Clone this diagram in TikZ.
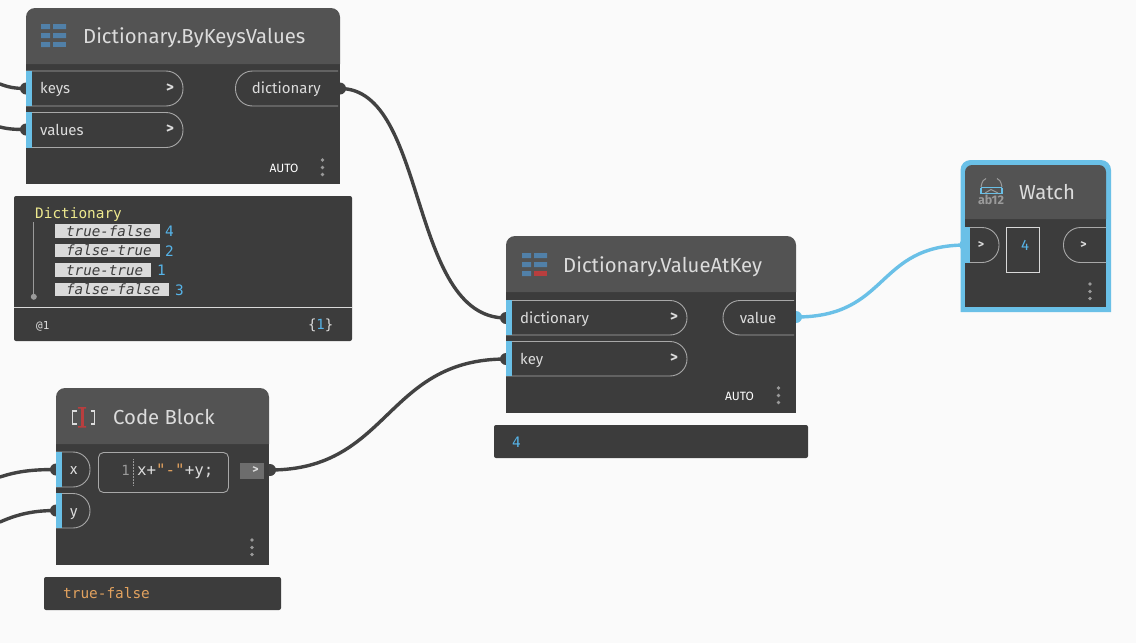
\documentclass[tikz,border=0pt]{standalone}
\usepackage{fontspec}
\setmainfont{Fira Sans}
\setmonofont{DejaVu Sans Mono}
\definecolor{canvas}{HTML}{FAFAFA}
\definecolor{bodyc}{HTML}{3C3C3C}
\definecolor{headc}{HTML}{535353}
\definecolor{blueport}{HTML}{6AC0E7}
\definecolor{wirec}{HTML}{424242}
\definecolor{txt}{HTML}{DCDCDC}
\definecolor{pillc}{HTML}{A8A8A8}
\definecolor{numc}{HTML}{56B4E9}
\definecolor{yel}{HTML}{EEE98E}
\definecolor{orangec}{HTML}{E2A25F}
\definecolor{keyc}{HTML}{DADADA}
\definecolor{gridc}{HTML}{5180A8}
\definecolor{redc}{HTML}{B83E3E}
\definecolor{dotc}{HTML}{9A9A9A}
\newcommand{\fsz}[1]{\fontsize{#1}{#1}\selectfont}
\tikzset{
  x=1pt,y=-1pt,
  wire/.style={draw=wirec,line width=3.4pt,line cap=round},
  bluewire/.style={draw=blueport,line width=3.4pt,line cap=round},
  plug/.style={fill=wirec},
  blueplug/.style={fill=blueport},
  title/.style={anchor=west,inner sep=0pt,text=txt,font=\fsz{20.3},text height=12,text depth=0},
  portlabel/.style={anchor=west,inner sep=0pt,text=txt,font=\fsz{15},text height=10.6,text depth=0},
  chev/.style={anchor=center,inner sep=0pt,text=txt,font=\fsz{15}\bfseries},
  auto label/.style={anchor=center,inner sep=0pt,text=white,font=\fsz{12}},
  pill/.style={draw=pillc,line width=0.9pt,rounded corners=17pt},
  mono/.style={anchor=west,inner sep=0pt,font=\ttfamily\fsz{14.4},text height=10,text depth=0},
  keytext/.style={anchor=west,inner sep=0pt,text=bodyc,font=\ttfamily\itshape\fsz{14.2},text height=10,text depth=0},
  keybar/.style={fill=keyc},
  numtext/.style={anchor=west,inner sep=0pt,text=numc,font=\ttfamily\fsz{14.4},text height=10,text depth=0},
  panel/.style={fill=bodyc},
  header/.style={fill=headc},
}
% #1 x left #2 x right #3 y top #4 y bottom #5 label name #6 text
\newcommand{\inport}[6]{%
  \draw[pill] (#1,#3) -- (#2,#3) -- (#2,#4) -- (#1,#4);
  \fill[blueport] (#1,#3-0.4) rectangle (#1+6,#4+0.4);
  \node[portlabel] (#5) at (#1+14,{(#3+#4)/2}) {#6};
}
\newcommand{\outport}[6]{%
  \draw[pill] (#2,#3) -- (#1,#3) -- (#1,#4) -- (#2,#4);
  \node[portlabel,anchor=center] (#5) at ({(#1+#2)/2-0.5},{(#3+#4)/2}) {#6};
}
\newcommand{\threedots}[2]{%
  \fill[dotc] (#1,#2-7.5) circle[radius=1.9] (#1,#2) circle[radius=1.9] (#1,#2+7) circle[radius=1.9];
}
% node frame: x1 x2 ytop yhead ybot
\newcommand{\nodeframe}[5]{%
  \fill[panel] (#1,#5) [rounded corners=0pt] -- (#1,#4) -- (#2,#4) -- (#2,#5) -- cycle;
  \fill[header] (#1,#4) [rounded corners=9pt] -- (#1,#3) -- (#2,#3) [rounded corners=0pt] -- (#2,#4) -- cycle;
}
\newcommand{\gridicon}[3]{%
  \fill[gridc] (#1,#2) rectangle ++(9,5) (#1+12,#2) rectangle ++(13,5)
               (#1,#2+9) rectangle ++(9,5) (#1+12,#2+9) rectangle ++(13,5)
               (#1,#2+18) rectangle ++(9,5);
  \fill[#3] (#1+12,#2+18) rectangle ++(13,5);
}
\begin{document}
\begin{tikzpicture}
\useasboundingbox (0,0) rectangle (1136,643);
\fill[canvas] (0,0) rectangle (1136,643);

% free wire ends and port anchors
\coordinate (freeK) at (0,84);
\coordinate (freeV) at (0,127);
\coordinate (freeX) at (0,477);
\coordinate (freeY) at (0,522);
\coordinate (keysIn) at (26,88.5);
\coordinate (valuesIn) at (26,129.5);
\coordinate (dictOut) at (340,88.5);
\coordinate (dictIn) at (506,318);
\coordinate (keyIn) at (506,359);
\coordinate (xIn) at (56,469.5);
\coordinate (yIn) at (56,510.5);
\coordinate (cbOut) at (270,470);
\coordinate (valOut) at (796,317);
\coordinate (watchIn) at (966,245);

% wires
\draw[wire] (freeK) .. controls (8,87) and (14,88.5) .. (keysIn);
\draw[wire] (freeV) .. controls (8,129) and (14,129.5) .. (valuesIn);
\draw[wire] (freeX) .. controls (18,471) and (34,469.5) .. (xIn);
\draw[wire] (freeY) .. controls (18,514) and (34,510.5) .. (yIn);
\draw[wire] (dictOut) .. controls (428,88.5) and (408,318) .. (dictIn);
\draw[wire] (cbOut) .. controls (390,470) and (385,359) .. (keyIn);
\draw[bluewire] (valOut) .. controls (890,317) and (875,245) .. (watchIn);
\foreach \c in {keysIn,valuesIn,dictIn,keyIn,xIn,yIn,dictOut,cbOut} \fill[plug] (\c) circle[radius=6];
\fill[blueplug] (valOut) circle[radius=6];
\fill[blueplug] (watchIn) circle[radius=6.5];

% Dictionary.ByKeysValues
\nodeframe{26}{340}{8}{64}{184}
\gridicon{41}{24}{gridc}
\node[title] (n1title) at (83,37) {Dictionary.ByKeysValues};
\inport{26}{183}{71}{106}{n1keys}{keys}
\node[chev] (n1c1) at (170,88.5) {>};
\inport{26}{183}{112.5}{147.5}{n1values}{values}
\node[chev] (n1c2) at (170,129.5) {>};
\outport{235.5}{338}{71}{106}{n1dict}{dictionary}
\node[auto label] (n1auto) at (284,168) {AUTO};
\threedots{322.5}{167.5}

% Watch preview of dictionary
\fill[panel,rounded corners=2pt] (14,196) rectangle (352,341);
\draw[white!85!black,line width=0.9pt] (14,307) -- (352,307);
\node[mono,text=yel] (wtitle) at (35,213) {Dictionary};
\draw[dotc,line width=0.9pt] (33.5,222) -- (33.5,296);
\fill[dotc] (33.8,296.8) circle[radius=3];
\fill[keybar] (55,224) rectangle (160,238);
\fill[keybar] (55,244) rectangle (160,257);
\fill[keybar] (55,263) rectangle (151,277);
\fill[keybar] (55,283) rectangle (169,296);
\node[keytext] (k1) at (66,231) {true-false};
\node[keytext] (k2) at (66,250.5) {false-true};
\node[keytext] (k3) at (66,270) {true-true};
\node[keytext] (k4) at (66,289.5) {false-false};
\node[numtext] (v1) at (165,231) {4};
\node[numtext] (v2) at (165,251) {2};
\node[numtext] (v3) at (157,270) {1};
\node[numtext] (v4) at (175,290) {3};
\node[mono,text=txt,font=\ttfamily\fsz{11},text height=8] (lv) at (36,325) {@1};
\node[mono,anchor=east,text=txt,font=\ttfamily\fsz{14}] (cnt) at (333.5,324) {\{\textcolor{numc}{1}\}};

% Code Block
\nodeframe{56}{269}{388}{444}{565}
\draw[txt,line width=1.3pt] (76.5,411) -- (72.5,411) -- (72.5,424) -- (76.5,424);
\draw[txt,line width=1.3pt] (90.5,411) -- (94.5,411) -- (94.5,424) -- (90.5,424);
\fill[redc] (81,408) rectangle (84,427);
\fill[redc] (78,407) rectangle (86,408.5) (78,426) rectangle (86,427.5);
\node[title] (cbtitle) at (113,418) {Code Block};
\inport{56}{90}{452}{487}{cbx}{x}
\inport{56}{90}{493.5}{528}{cby}{y}
\draw[pill,rounded corners=5pt] (98.5,452.5) rectangle (228.5,492.5);
\node[anchor=center,inner sep=0pt,text=dotc,font=\ttfamily\fsz{14}] (ln) at (125.5,470) {1};
\draw[dotc,line width=0.5pt,densely dotted] (133.5,459) -- (133.5,486);
\node[anchor=west,inner sep=0pt,text=txt,font=\ttfamily\fsz{15.8},text height=10,text depth=0] (code) at (137,470) {x+\textcolor{orangec}{"-"}+y;};
\fill[white!25!bodyc] (240,463) rectangle (264,478.5);
\node[chev,font=\fsz{12}\bfseries] (cbc) at (255.5,470.5) {>};
\threedots{252}{547.5}
\fill[panel,rounded corners=2pt] (44,577) rectangle (281,610);
\node[mono,text=orangec] (cbprev) at (63,593.5) {true-false};

% Dictionary.ValueAtKey
\nodeframe{506}{796}{236}{292}{413}
\gridicon{522}{253}{redc}
\node[title] (n2title) at (563,266) {Dictionary.ValueAtKey};
\inport{506}{687}{300.5}{335}{n2dict}{dictionary}
\node[chev] (n2c1) at (674,317.5) {>};
\inport{506}{687}{341.5}{376}{n2key}{key}
\node[chev] (n2c2) at (674,358.5) {>};
\outport{723}{794}{300.5}{335}{n2val}{value}
\node[auto label] (n2auto) at (739.5,396) {AUTO};
\threedots{778.5}{395.5}
\fill[panel,rounded corners=2pt] (494,425) rectangle (808,458);
\node[numtext] (n2prev) at (512,442) {4};

% Watch
\fill[blueport,rounded corners=10pt] (960.5,160) -- (1111,160) [rounded corners=0pt] -- (1111,312) -- (960.5,312) [rounded corners=10pt] -- cycle;
\fill[panel] (965,219) rectangle (1106,307);
\fill[header] (965,219) [rounded corners=7pt] -- (965,165) -- (1106,165) [rounded corners=0pt] -- (1106,219) -- cycle;
\draw[blueport,line width=1.1pt] (981,193.5) -- (1002,193.5) (981,187.5) -- (1002,187.5);
\draw[blueport,line width=1.1pt] (981,193.5) -- (981,187.5) (1002,193.5) -- (1002,187.5);
\draw[dotc,line width=1pt] (981,187) .. controls (982,181) and (984,179) .. (986,178.5) (1002,187) .. controls (1001,181) and (999,179) .. (997,178.5);
\draw[dotc,line width=1pt] (985,193) -- (991,189.5) -- (998,193);
\node[inner sep=0pt,text=dotc,font=\fsz{12.5}\bfseries] (wicon) at (991,200) {ab12};
\node[title] (wtitle2) at (1019,193) {Watch};
\draw[pill] (970,227.5) -- (999,227.5) -- (999,262.5) -- (970,262.5);
\node[chev,font=\fsz{12}\bfseries] (wc1) at (981,245) {>};
\fill[blueport] (965,227) rectangle (970,263);
\draw[white!85!black,line width=0.9pt] (1006.5,227.5) rectangle (1039.5,272.5);
\node[anchor=center,inner sep=0pt,text=numc,font=\fsz{15}] (wval) at (1025,245) {4};
\draw[pill] (1106,227.5) -- (1063.5,227.5) -- (1063.5,262.5) -- (1106,262.5);
\node[chev,font=\fsz{12}\bfseries] (wc2) at (1083.5,245) {>};
\threedots{1090}{291.5}
\end{tikzpicture}
\end{document}
